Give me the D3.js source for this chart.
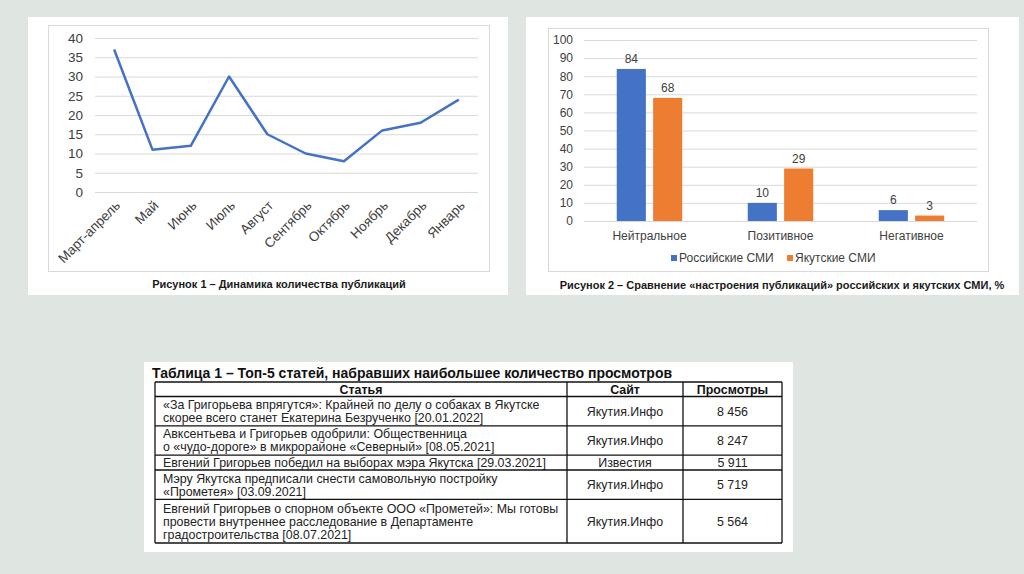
<!DOCTYPE html>
<html>
<head>
<meta charset="utf-8">
<script src="https://cdn.jsdelivr.net/npm/d3@7"></script>
<style>
  html, body { margin: 0; padding: 0; background: #dfe6e2; }
  svg { display: block; font-family: "Liberation Sans", Arial, sans-serif; }
</style>
</head>
<body>
<script>
// --- figure 1: publications per month
const MONTHS = ["Март-апрель", "Май", "Июнь", "Июль", "Август", "Сентябрь",
  "Октябрь", "Ноябрь", "Декабрь", "Январь"]
const PUBLICATIONS = [37, 11, 12, 30, 15, 10, 8, 16, 18, 24]
const PUB_TICKS = [0, 5, 10, 15, 20, 25, 30, 35, 40]

// --- figure 2: mood of publications, %
const MOODS = ["Нейтральное", "Позитивное", "Негативное"]
const SERIES = ["Российские СМИ", "Якутские СМИ"]
const RUSSIAN_MEDIA = [84, 10, 6]
const YAKUT_MEDIA = [68, 29, 3]
const MOOD_TICKS = [0, 10, 20, 30, 40, 50, 60, 70, 80, 90, 100]

// --- table 1: top-5 articles
const TABLE_HEAD = ["Статья", "Сайт", "Просмотры"]
const ARTICLES = [
  ["«За Григорьева впрягутся»: Крайней по делу о собаках в Якутске", "скорее всего станет Екатерина Безрученко [20.01.2022]"],
  ["Авксентьева и Григорьев одобрили: Общественница", "о «чудо-дороге» в микрорайоне «Северный» [08.05.2021]"],
  ["Евгений Григорьев победил на выборах мэра Якутска [29.03.2021]"],
  ["Мэру Якутска предписали снести самовольную постройку", "«Прометея» [03.09.2021]"],
  ["Евгений Григорьев о спорном объекте ООО «Прометей»: Мы готовы", "провести внутреннее расследование в Департаменте", "градостроительства [08.07.2021]"]
]
const SITES = ["Якутия.Инфо", "Якутия.Инфо", "Известия", "Якутия.Инфо", "Якутия.Инфо"]
const VIEWS = ["8 456", "8 247", "5 911", "5 719", "5 564"]

const BLUE = "#4472c4"
const ORANGE = "#ed7d31"
const TEXT = "#404040"
const GRID = "#d9d9d9"

const svg = d3.select("body").append("svg")
    .attr("width", 1024)
    .attr("height", 574)

svg.append("rect").attr("width", 1024).attr("height", 574).attr("fill", "#dfe6e2")

// ============ figure 1 ============
const p1 = svg.append("g")
p1.append("rect").attr("x", 28).attr("y", 17).attr("width", 480).attr("height", 278).attr("fill", "#fff")
p1.append("rect").attr("x", 48.5).attr("y", 25.5).attr("width", 441).attr("height", 246)
    .attr("fill", "none").attr("stroke", GRID)

const m1 = { left: 95, right: 478, top: 38, bottom: 192 }

const x1 = d3.scalePoint().domain(MONTHS).range([m1.left, m1.right]).padding(0.5)
const y1 = d3.scaleLinear().domain([0, 40]).range([m1.bottom, m1.top])

const yAxis1 = p1.append("g")
    .attr("transform", `translate(${m1.left},0)`)
    .call(d3.axisLeft(y1).tickValues(PUB_TICKS).tickSize(-(m1.right - m1.left)).tickPadding(12))
yAxis1.select(".domain").remove()
yAxis1.selectAll("line").attr("stroke", GRID)
yAxis1.selectAll("text").attr("fill", TEXT).style("font-size", "13.5px")

const xAxis1 = p1.append("g")
    .attr("transform", `translate(0,${m1.bottom})`)
    .call(d3.axisBottom(x1).tickSize(0))
xAxis1.select(".domain").remove()
xAxis1.selectAll("text")
    .attr("x", 0).attr("y", 0).attr("dy", "0.35em")
    .attr("text-anchor", "end")
    .attr("transform", "translate(3,11) rotate(-45)")
    .attr("fill", TEXT)
    .style("font-size", "13.5px")

const line = d3.line()
    .x((d, i) => x1(MONTHS[i]))
    .y(d => y1(d))

p1.append("path")
    .datum(PUBLICATIONS)
    .attr("d", line)
    .attr("fill", "none")
    .attr("stroke", BLUE)
    .attr("stroke-width", 2.5)
    .attr("stroke-linejoin", "round")

p1.append("text")
    .attr("x", 279).attr("y", 288)
    .attr("text-anchor", "middle")
    .style("font-size", "11px").style("font-weight", "bold")
    .attr("fill", "#1a1a1a")
    .text("Рисунок 1 – Динамика количества публикаций")

// ============ figure 2 ============
const p2 = svg.append("g")
p2.append("rect").attr("x", 526).attr("y", 17).attr("width", 493).attr("height", 278).attr("fill", "#fff")
p2.append("rect").attr("x", 548.5).attr("y", 28.5).attr("width", 440).attr("height", 243)
    .attr("fill", "none").attr("stroke", GRID)

const m2 = { left: 584, right: 977, top: 40, bottom: 221 }

const x2 = d3.scaleBand().domain(MOODS).range([m2.left, m2.right]).paddingInner(0.5).paddingOuter(0.25)
const xs = d3.scaleBand().domain(SERIES).range([0, x2.bandwidth()]).paddingInner(0.2)
const y2 = d3.scaleLinear().domain([0, 100]).range([m2.bottom, m2.top])
const color = d3.scaleOrdinal().domain(SERIES).range([BLUE, ORANGE])

const yAxis2 = p2.append("g")
    .attr("transform", `translate(${m2.left},0)`)
    .call(d3.axisLeft(y2).tickValues(MOOD_TICKS).tickSize(-(m2.right - m2.left)).tickPadding(11))
yAxis2.select(".domain").remove()
yAxis2.selectAll("line").attr("stroke", GRID)
yAxis2.selectAll("text").attr("fill", TEXT).style("font-size", "12px")

const xAxis2 = p2.append("g")
    .attr("transform", `translate(0,${m2.bottom})`)
    .call(d3.axisBottom(x2).tickSize(0).tickPadding(10))
xAxis2.select(".domain").remove()
xAxis2.selectAll("text").attr("fill", TEXT).style("font-size", "12px")

const barData = MOODS.flatMap((mood, i) => [
  { mood: mood, series: SERIES[0], value: RUSSIAN_MEDIA[i] },
  { mood: mood, series: SERIES[1], value: YAKUT_MEDIA[i] }
])

p2.selectAll(".bar")
  .data(barData)
  .enter()
  .append("rect")
    .attr("class", "bar")
    .attr("x", d => x2(d.mood) + xs(d.series))
    .attr("y", d => y2(d.value))
    .attr("width", xs.bandwidth())
    .attr("height", d => m2.bottom - y2(d.value))
    .attr("fill", d => color(d.series))

p2.selectAll(".lbl")
  .data(barData)
  .enter()
  .append("text")
    .attr("class", "lbl")
    .attr("x", d => x2(d.mood) + xs(d.series) + xs.bandwidth() / 2)
    .attr("y", d => y2(d.value) - 6)
    .attr("text-anchor", "middle")
    .attr("fill", TEXT)
    .style("font-size", "12px")
    .text(d => d.value)

const legend = p2.append("g").attr("transform", "translate(671,258)")
const legendX = [0, 116]
SERIES.forEach((s, i) => {
  const it = legend.append("g").attr("transform", `translate(${legendX[i]},0)`)
  it.append("rect").attr("x", 0).attr("y", -3).attr("width", 6).attr("height", 6).attr("fill", color(s))
  it.append("text").attr("x", 8).attr("y", 0).attr("dy", "0.35em")
    .attr("fill", TEXT).style("font-size", "12px").text(s)
})

p2.append("text")
    .attr("x", 782).attr("y", 289)
    .attr("text-anchor", "middle")
    .style("font-size", "11px").style("font-weight", "bold")
    .attr("fill", "#1a1a1a")
    .text("Рисунок 2 – Сравнение «настроения публикаций» российских и якутских СМИ, %")

// ============ table 1 ============
const t = svg.append("g")
t.append("rect").attr("x", 144).attr("y", 362).attr("width", 649).attr("height", 190).attr("fill", "#fff")

t.append("text")
    .attr("x", 152).attr("y", 378)
    .style("font-size", "14px").style("font-weight", "bold")
    .attr("fill", "#111")
    .text("Таблица 1 – Топ-5 статей, набравших наибольшее количество просмотров")

const cols = [155, 567, 683, 782]
const headTop = 382, headH = 14.5, lineH = 14.4
let rowTops = [headTop + headH]
ARTICLES.forEach((a, i) => rowTops.push(rowTops[i] + a.length * lineH + 0.5))
const tableBottom = rowTops[rowTops.length - 1]

// header
TABLE_HEAD.forEach((h, i) => {
  t.append("text")
    .attr("x", (cols[i] + cols[i + 1]) / 2).attr("y", headTop + headH / 2).attr("dy", "0.36em")
    .attr("text-anchor", "middle")
    .style("font-size", "12.4px").style("font-weight", "bold")
    .attr("fill", "#111")
    .text(h)
})

// rows
ARTICLES.forEach((lines, i) => {
  const top = rowTops[i], bot = rowTops[i + 1], mid = (top + bot) / 2
  lines.forEach((ln, j) => {
    t.append("text")
      .attr("x", cols[0] + 8)
      .attr("y", mid + (j - (lines.length - 1) / 2) * 13).attr("dy", "0.36em")
      .style("font-size", "12.4px").attr("fill", "#222")
      .text(ln)
  })
  t.append("text")
    .attr("x", (cols[1] + cols[2]) / 2).attr("y", mid).attr("dy", "0.36em")
    .attr("text-anchor", "middle")
    .style("font-size", "12.4px").attr("fill", "#222")
    .text(SITES[i])
  t.append("text")
    .attr("x", (cols[2] + cols[3]) / 2).attr("y", mid).attr("dy", "0.36em")
    .attr("text-anchor", "middle")
    .style("font-size", "12.4px").attr("fill", "#222")
    .text(VIEWS[i])
})

// grid lines
const hLines = [headTop].concat(rowTops)
t.selectAll(".hl").data(hLines).enter().append("line")
    .attr("x1", cols[0]).attr("x2", cols[3])
    .attr("y1", d => d).attr("y2", d => d)
    .attr("stroke", "#111").attr("stroke-width", 1.3)
t.selectAll(".vl").data(cols).enter().append("line")
    .attr("x1", d => d).attr("x2", d => d)
    .attr("y1", headTop).attr("y2", tableBottom)
    .attr("stroke", "#111").attr("stroke-width", 1.3)
</script>
</body>
</html>
